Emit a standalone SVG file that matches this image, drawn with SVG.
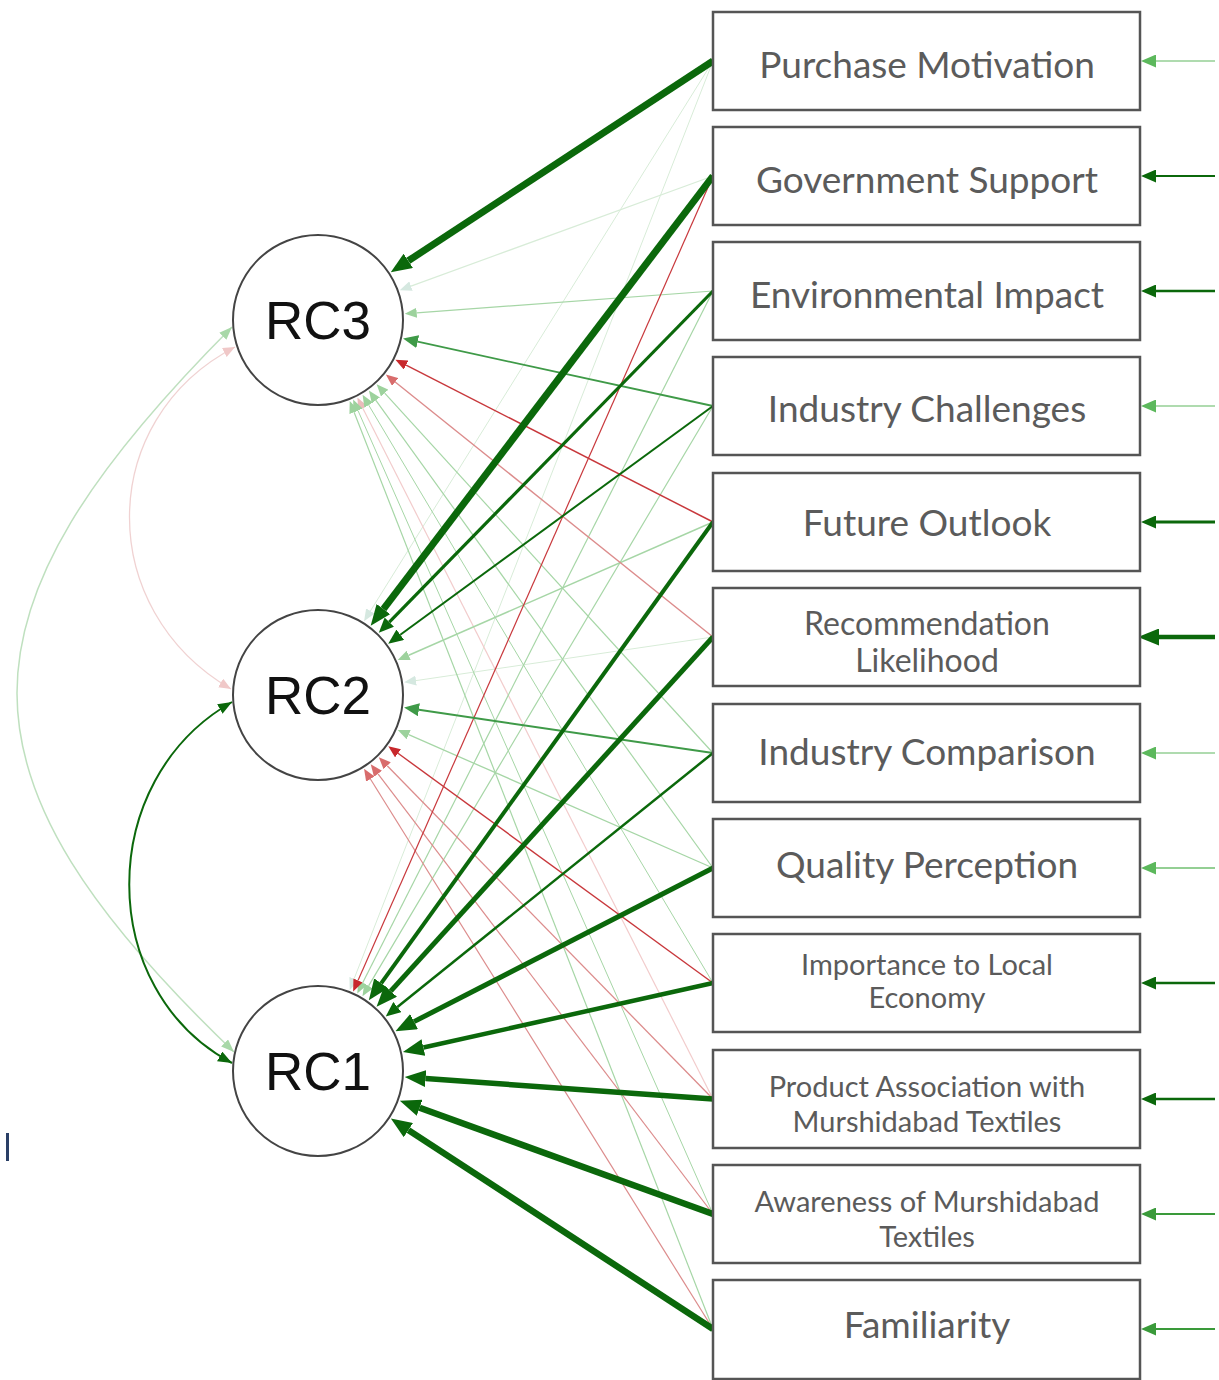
<svg xmlns="http://www.w3.org/2000/svg" width="1219" height="1380" viewBox="0 0 1219 1380">
<style>
.e{fill:none}
.dg{stroke:#0b680b}
.mg{stroke:#3f9a48}
.lg{stroke:#a6d6a6}
.fg{stroke:#d8ecd8}
.rd{stroke:#c8383c}
.lr{stroke:#dc8c8c}
.fr{stroke:#f2cccc}
.rl{stroke:#94cf94}
.rm{stroke:#3a9a3a}
.box{fill:#fff;stroke:#555;stroke-width:2.5}
.circ{fill:#fff;stroke:#444;stroke-width:2}
.lbl{font-family:"Lato","Open Sans",sans-serif;fill:#5b5b5b;text-anchor:middle}
.s1{font-size:37px}
.s2{font-size:29px}
.rc{font-family:"Liberation Sans",Arial,sans-serif;font-size:53px;fill:#111;text-anchor:middle}
</style>
<defs>
<marker id="dg-L" viewBox="0 0 21 17" markerWidth="21" markerHeight="17" refX="0" refY="8.5" orient="auto" markerUnits="userSpaceOnUse"><path d="M0,0L21,8.5L0,17z" fill="#0b680b"/></marker>
<marker id="dg-M" viewBox="0 0 15 13" markerWidth="15" markerHeight="13" refX="0" refY="6.5" orient="auto" markerUnits="userSpaceOnUse"><path d="M0,0L15,6.5L0,13z" fill="#0b680b"/></marker>
<marker id="mg-M" viewBox="0 0 15 13" markerWidth="15" markerHeight="13" refX="0" refY="6.5" orient="auto" markerUnits="userSpaceOnUse"><path d="M0,0L15,6.5L0,13z" fill="#3f9a48"/></marker>
<marker id="lg-S" viewBox="0 0 12 10" markerWidth="12" markerHeight="10" refX="0" refY="5" orient="auto" markerUnits="userSpaceOnUse"><path d="M0,0L12,5L0,10z" fill="#9dd29d"/></marker>
<marker id="fg-S" viewBox="0 0 12 10" markerWidth="12" markerHeight="10" refX="0" refY="5" orient="auto" markerUnits="userSpaceOnUse"><path d="M0,0L12,5L0,10z" fill="#d5e8e0"/></marker>
<marker id="rd-S" viewBox="0 0 12 10" markerWidth="12" markerHeight="10" refX="0" refY="5" orient="auto" markerUnits="userSpaceOnUse"><path d="M0,0L12,5L0,10z" fill="#c8282c"/></marker>
<marker id="lr-S" viewBox="0 0 12 10" markerWidth="12" markerHeight="10" refX="0" refY="5" orient="auto" markerUnits="userSpaceOnUse"><path d="M0,0L12,5L0,10z" fill="#d86c6c"/></marker>
<marker id="fr-S" viewBox="0 0 12 10" markerWidth="12" markerHeight="10" refX="0" refY="5" orient="auto" markerUnits="userSpaceOnUse"><path d="M0,0L12,5L0,10z" fill="#ebbcbc"/></marker>
<marker id="rl-M" viewBox="0 0 15 13" markerWidth="15" markerHeight="13" refX="0" refY="6.5" orient="auto" markerUnits="userSpaceOnUse"><path d="M0,0L15,6.5L0,13z" fill="#5cb85c"/></marker>
<marker id="rm-M" viewBox="0 0 15 13" markerWidth="15" markerHeight="13" refX="0" refY="6.5" orient="auto" markerUnits="userSpaceOnUse"><path d="M0,0L15,6.5L0,13z" fill="#3a9a3a"/></marker>
<marker id="c-dg" viewBox="0 0 14 11" markerWidth="14" markerHeight="11" refX="14" refY="5.5" orient="auto-start-reverse" markerUnits="userSpaceOnUse"><path d="M0,0L14,5.5L0,11z" fill="#0b680b"/></marker>
<marker id="c-lg" viewBox="0 0 13 10" markerWidth="13" markerHeight="10" refX="13" refY="5" orient="auto-start-reverse" markerUnits="userSpaceOnUse"><path d="M0,0L13,5L0,10z" fill="#a8d8a8"/></marker>
<marker id="c-pk" viewBox="0 0 12 10" markerWidth="12" markerHeight="10" refX="12" refY="5" orient="auto-start-reverse" markerUnits="userSpaceOnUse"><path d="M0,0L12,5L0,10z" fill="#f0c8c8"/></marker>
</defs>

<g id="connectors">
  <!-- covariances -->
  <path class="e" d="M235,347 C95,420 95,610 231,689" stroke="#f0d2d2" stroke-width="1.3" marker-start="url(#c-pk)" marker-end="url(#c-pk)"/>
  <path class="e" d="M232,327 C-55,615 -55,775 234,1052" stroke="#bfe0bf" stroke-width="1.5" marker-start="url(#c-lg)" marker-end="url(#c-lg)"/>
  <path class="e dg" d="M232,702 C95,780 95,990 232,1063" stroke-width="2" marker-start="url(#c-dg)" marker-end="url(#c-dg)"/>

  <!-- weak loadings -->
  <path class="e fg" d="M713,176 L411.0,286.1" stroke-width="1.2" marker-end="url(#fg-S)"/>
  <path class="e fg" d="M713,61 L370.4,611.0" stroke-width="1" marker-end="url(#fg-S)"/>
  <path class="e fg" d="M713,637 L416.0,680.6" stroke-width="1" marker-end="url(#fg-S)"/>
  <path class="e fg" d="M713,61 L354.1,978.8" stroke-width="1" marker-end="url(#fg-S)"/>
  <path class="e fr" d="M713,1099 L362.8,408.3" stroke-width="1.2" marker-end="url(#fr-S)"/>

  <path class="e lg" d="M713,291 L416.7,312.8" stroke-width="1.2" marker-end="url(#lg-S)"/>
  <path class="e lg" d="M713,753 L384.7,393.1" stroke-width="1.2" marker-end="url(#lg-S)"/>
  <path class="e lg" d="M713,868 L375.9,400.3" stroke-width="1.2" marker-end="url(#lg-S)"/>
  <path class="e lg" d="M713,983 L368.7,405.1" stroke-width="1" marker-end="url(#lg-S)"/>
  <path class="e lg" d="M713,1214 L358.0,410.6" stroke-width="1" marker-end="url(#lg-S)"/>
  <path class="e lg" d="M713,1329 L354.1,412.2" stroke-width="1.2" marker-end="url(#lg-S)"/>
  <path class="e lg" d="M713,522 L408.7,655.3" stroke-width="1.5" marker-end="url(#lg-S)"/>
  <path class="e lg" d="M713,868 L408.7,734.7" stroke-width="1.3" marker-end="url(#lg-S)"/>
  <path class="e lg" d="M713,291 L362.7,982.7" stroke-width="1.2" marker-end="url(#lg-S)"/>
  <path class="e lg" d="M713,406 L368.6,985.9" stroke-width="1.2" marker-end="url(#lg-S)"/>

  <path class="e lr" d="M713,637 L395.2,382.0" stroke-width="1.4" marker-end="url(#lr-S)"/>
  <path class="e lr" d="M713,1099 L387.2,765.8" stroke-width="1.3" marker-end="url(#lr-S)"/>
  <path class="e lr" d="M713,1214 L378.0,773.8" stroke-width="1.2" marker-end="url(#lr-S)"/>
  <path class="e lr" d="M713,1329 L370.4,779.0" stroke-width="1.2" marker-end="url(#lr-S)"/>
  <path class="e rd" d="M713,522 L406.1,365.1" stroke-width="1.5" marker-end="url(#rd-S)"/>
  <path class="e rd" d="M713,983 L398.0,753.3" stroke-width="1.4" marker-end="url(#rd-S)"/>
  <path class="e rd" d="M713,176 L358.0,980.4" stroke-width="1.2" marker-end="url(#rd-S)"/>

  <path class="e mg" d="M713,406 L417.7,341.7" stroke-width="1.8" marker-end="url(#mg-M)"/>
  <path class="e mg" d="M713,753 L418.9,709.8" stroke-width="2" marker-end="url(#mg-M)"/>
  <path class="e dg" d="M713,406 L400.3,634.8" stroke-width="2" marker-end="url(#dg-M)"/>
  <path class="e dg" d="M713,291 L389.3,622.1" stroke-width="3.2" marker-end="url(#dg-M)"/>
  <path class="e dg" d="M713,753 L397.4,1007.0" stroke-width="2.5" marker-end="url(#dg-M)"/>

  <!-- strong loadings -->
  <path class="e dg" d="M713,61 L408.3,260.8" stroke-width="7" marker-end="url(#dg-L)"/>
  <path class="e dg" d="M713,176 L383.4,609.1" stroke-width="7" marker-end="url(#dg-L)"/>
  <path class="e dg" d="M713,522 L381.1,983.3" stroke-width="4" marker-end="url(#dg-L)"/>
  <path class="e dg" d="M713,637 L390.7,991.1" stroke-width="5" marker-end="url(#dg-L)"/>
  <path class="e dg" d="M713,868 L414.1,1021.6" stroke-width="5" marker-end="url(#dg-L)"/>
  <path class="e dg" d="M713,983 L423.4,1047.5" stroke-width="4.5" marker-end="url(#dg-L)"/>
  <path class="e dg" d="M713,1099 L425.7,1078.6" stroke-width="5.5" marker-end="url(#dg-L)"/>
  <path class="e dg" d="M713,1214 L419.6,1107.8" stroke-width="6.5" marker-end="url(#dg-L)"/>
  <path class="e dg" d="M713,1329 L408.4,1130.1" stroke-width="6.5" marker-end="url(#dg-L)"/>

  <!-- residuals -->
  <path class="e rl" d="M1215,61 L1156,61" stroke-width="1.5" marker-end="url(#rl-M)"/>
  <path class="e dg" d="M1215,176 L1156,176" stroke-width="2" marker-end="url(#dg-M)"/>
  <path class="e dg" d="M1215,291 L1156,291" stroke-width="2.5" marker-end="url(#dg-M)"/>
  <path class="e rl" d="M1215,406 L1156,406" stroke-width="1.5" marker-end="url(#rl-M)"/>
  <path class="e dg" d="M1215,522 L1156,522" stroke-width="3" marker-end="url(#dg-M)"/>
  <path class="e dg" d="M1215,637 L1159,637" stroke-width="4.5" marker-end="url(#dg-L)"/>
  <path class="e rl" d="M1215,753 L1156,753" stroke-width="1.5" marker-end="url(#rl-M)"/>
  <path class="e rl" d="M1215,868 L1156,868" stroke-width="2" marker-end="url(#rl-M)"/>
  <path class="e dg" d="M1215,983 L1156,983" stroke-width="2.5" marker-end="url(#dg-M)"/>
  <path class="e dg" d="M1215,1099 L1156,1099" stroke-width="2.5" marker-end="url(#dg-M)"/>
  <path class="e rm" d="M1215,1214 L1156,1214" stroke-width="2" marker-end="url(#rm-M)"/>
  <path class="e rm" d="M1215,1329 L1156,1329" stroke-width="2" marker-end="url(#rm-M)"/>
</g>

<g id="RC3"><circle class="circ" cx="318" cy="320" r="85"/><text class="rc" x="318" y="339">RC3</text></g>
<g id="RC2"><circle class="circ" cx="318" cy="695" r="85"/><text class="rc" x="318" y="714">RC2</text></g>
<g id="RC1"><circle class="circ" cx="318" cy="1071" r="85"/><text class="rc" x="318" y="1090">RC1</text></g>

<g id="purchase-motivation"><rect class="box" x="713" y="12" width="427" height="98"/><text class="lbl s1" x="927" y="78">Purchase Motivation</text></g>
<g id="government-support"><rect class="box" x="713" y="127" width="427" height="98"/><text class="lbl s1" x="927" y="193">Government Support</text></g>
<g id="environmental-impact"><rect class="box" x="713" y="242" width="427" height="98"/><text class="lbl s1" x="927" y="308">Environmental Impact</text></g>
<g id="industry-challenges"><rect class="box" x="713" y="357" width="427" height="98"/><text class="lbl s1" x="927" y="422">Industry Challenges</text></g>
<g id="future-outlook"><rect class="box" x="713" y="473" width="427" height="98"/><text class="lbl s1" x="927" y="536">Future Outlook</text></g>
<g id="recommendation-likelihood"><rect class="box" x="713" y="588" width="427" height="98"/><text class="lbl" x="927" y="635" font-size="32">Recommendation</text><text class="lbl" x="927" y="672" font-size="32">Likelihood</text></g>
<g id="industry-comparison"><rect class="box" x="713" y="704" width="427" height="98"/><text class="lbl s1" x="927" y="765">Industry Comparison</text></g>
<g id="quality-perception"><rect class="box" x="713" y="819" width="427" height="98"/><text class="lbl s1" x="927" y="878">Quality Perception</text></g>
<g id="importance-local-economy"><rect class="box" x="713" y="934" width="427" height="98"/><text class="lbl s2" x="927" y="975">Importance to Local</text><text class="lbl s2" x="927" y="1008">Economy</text></g>
<g id="product-association"><rect class="box" x="713" y="1050" width="427" height="98"/><text class="lbl s2" x="927" y="1097">Product Association with</text><text class="lbl s2" x="927" y="1132">Murshidabad Textiles</text></g>
<g id="awareness"><rect class="box" x="713" y="1165" width="427" height="98"/><text class="lbl s2" x="927" y="1212">Awareness of Murshidabad</text><text class="lbl s2" x="927" y="1247">Textiles</text></g>
<g id="familiarity"><rect class="box" x="713" y="1280" width="427" height="99"/><text class="lbl s1" x="927" y="1338">Familiarity</text></g>

<rect x="6" y="1133" width="3" height="28" fill="#2a3f66"/>
</svg>
